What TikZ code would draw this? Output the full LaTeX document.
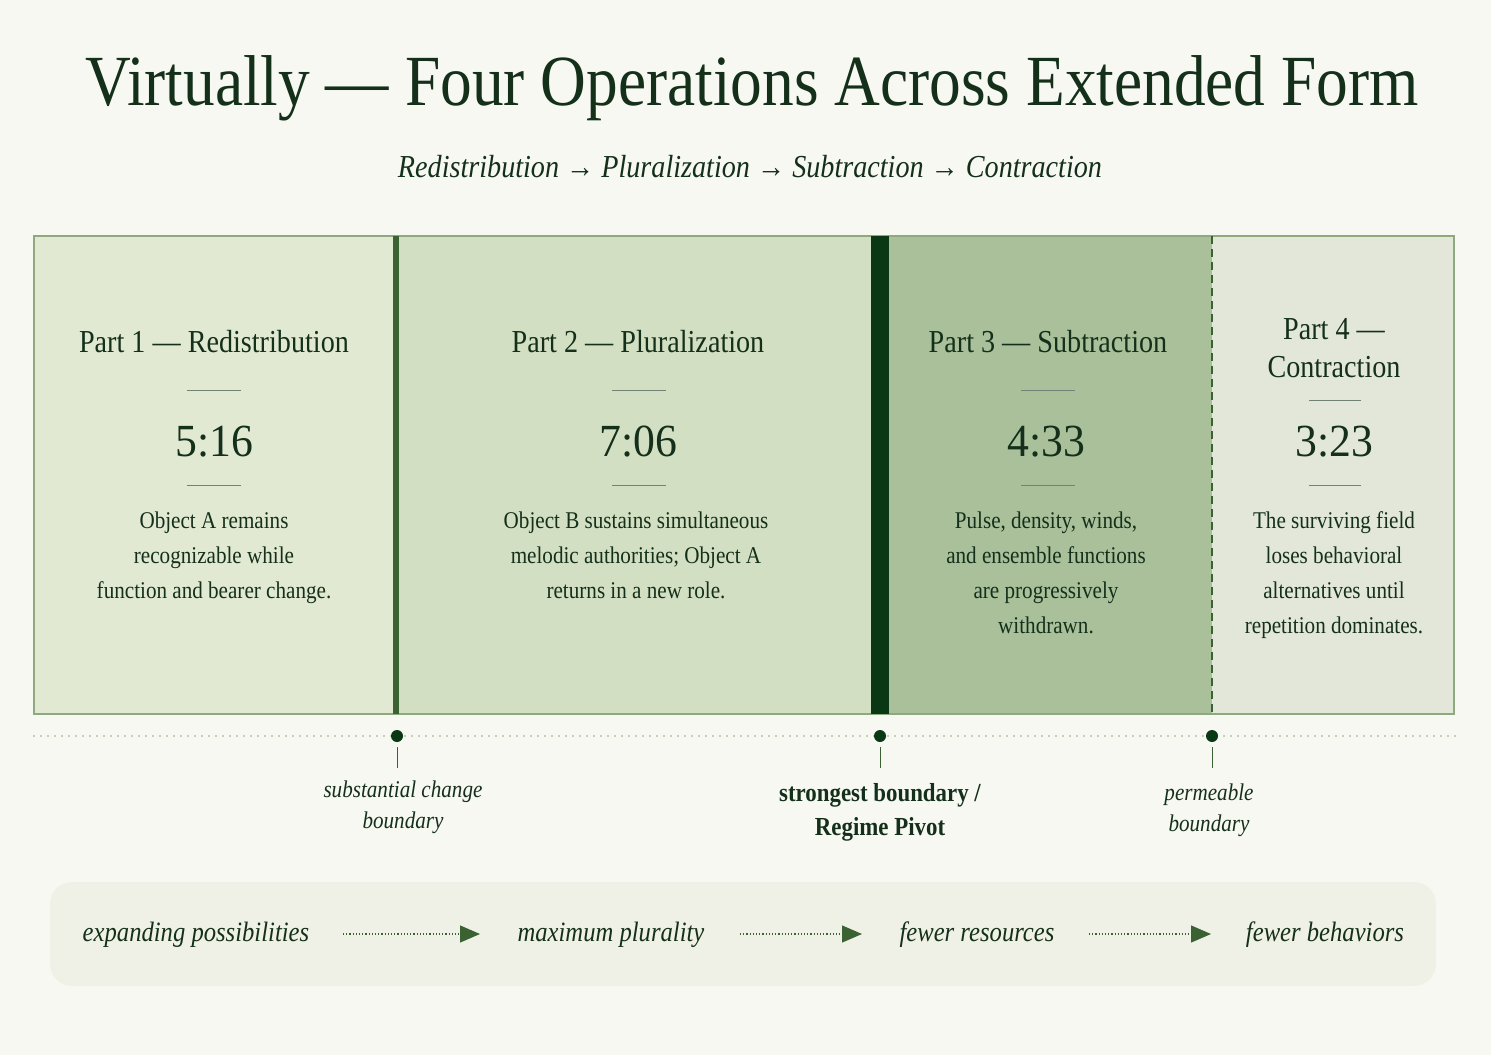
\documentclass[tikz,border=0pt]{standalone}
\usepackage{fontspec}
\setmainfont{Liberation Serif}[FakeStretch=0.88]
\newfontfamily\numf{Liberation Serif}[FakeStretch=0.95]
\usetikzlibrary{arrows.meta}
\definecolor{bg}{HTML}{F8F8F2}
\definecolor{ink}{HTML}{14301A}
\definecolor{pa}{HTML}{E2E9D3}
\definecolor{pb}{HTML}{D3DFC2}
\definecolor{pc}{HTML}{A9C09B}
\definecolor{pd}{HTML}{E2E7DA}
\definecolor{bord}{HTML}{8FA97F}
\definecolor{mid}{HTML}{3A6232}
\definecolor{dark}{HTML}{0B3814}
\definecolor{band}{HTML}{F0F1E6}
\tikzset{
 head/.style={text=ink,font=\fontsize{32}{36}\selectfont,align=center},
 num/.style={text=ink,font=\numf\fontsize{46}{50}\selectfont},
 body/.style={text=ink,font=\fontsize{24}{35}\selectfont,align=center},
 rule/.style={draw=ink!60,line width=0.8pt},
 lab/.style={text=ink,font=\itshape\fontsize{24}{31}\selectfont,align=center},
 flow/.style={text=ink,font=\itshape\fontsize{28}{30}\selectfont},
 farrow/.style={draw=mid,line width=1.2pt,dotted,-{Triangle[length=20pt,width=17pt,fill=mid]}},
 dot/.style={circle,fill=dark,inner sep=0pt,minimum size=12pt},
}
\begin{document}
\begin{tikzpicture}[x=1pt,y=-1pt]
\fill[bg] (0,0) rectangle (1491,1055);
\useasboundingbox (0,0) rectangle (1491,1055);
\node[text=ink,font=\fontsize{72}{76}\selectfont] (title) at (752,88) {Virtually — Four Operations Across Extended Form};
\node[text=ink,font=\itshape\fontsize{32}{36}\selectfont] (sub) at (750,167) {Redistribution → Pluralization → Subtraction → Contraction};
% panels
\fill[pa] (34,236) rectangle (396,714);
\fill[pb] (396,236) rectangle (880,714);
\fill[pc] (880,236) rectangle (1212,714);
\fill[pd] (1212,236) rectangle (1454,714);
\draw[bord,line width=1.2pt] (34,236) rectangle (1454,714);
\draw[mid,line width=6pt] (396,236) -- (396,714);
\draw[dark,line width=18pt] (880,236) -- (880,714);
\draw[mid,line width=1.5pt,dash pattern=on 8pt off 5pt] (1212,236) -- (1212,714);
% part 1
\node[head] (h1) at (214,342) {Part 1 — Redistribution};
\draw[rule] (187,390) -- (241,390);
\node[num] (n1) at (214,442) {5:16};
\draw[rule] (187,485) -- (241,485);
\node[body,anchor=north] (b1) at (214,508) {Object A remains\\recognizable while\\function and bearer change.};
% part 2
\node[head] (h2) at (638,342) {Part 2 — Pluralization};
\draw[rule] (612,390) -- (666,390);
\node[num] (n2) at (638,442) {7:06};
\draw[rule] (612,485) -- (666,485);
\node[body,anchor=north] (b2) at (636,508) {Object B sustains simultaneous\\melodic authorities; Object A\\returns in a new role.};
% part 3
\node[head] (h3) at (1048,342) {Part 3 — Subtraction};
\draw[rule] (1021,390) -- (1075,390);
\node[num] (n3) at (1046,442) {4:33};
\draw[rule] (1021,485) -- (1075,485);
\node[body,anchor=north] (b3) at (1046,508) {Pulse, density, winds,\\and ensemble functions\\are progressively\\withdrawn.};
% part 4
\node[head,font=\fontsize{32}{38}\selectfont] (h4) at (1334,348) {Part 4 —\\Contraction};
\draw[rule] (1309,400) -- (1361,400);
\node[num] (n4) at (1334,442) {3:23};
\draw[rule] (1309,485) -- (1361,485);
\node[body,anchor=north] (b4) at (1334,508) {The surviving field\\loses behavioral\\alternatives until\\repetition dominates.};
% timeline
\draw[bord,line width=1.8pt,line cap=round,dash pattern=on 0pt off 7pt] (34,736) -- (1456,736);
\node[dot] (d1) at (397,736) {};
\node[dot] (d2) at (880,736) {};
\node[dot] (d3) at (1212,736) {};
\coordinate (t1) at (397,768);
\coordinate (t2) at (880,768);
\coordinate (t3) at (1212,768);
\draw[mid,line width=1pt] ([yshift=-5pt]d1.south) -- (t1);
\draw[mid,line width=1pt] ([yshift=-5pt]d2.south) -- (t2);
\draw[mid,line width=1pt] ([yshift=-5pt]d3.south) -- (t3);
\node[lab] (l1) at (403,807) {substantial change\\boundary};
\node[text=ink,font=\bfseries\fontsize{26}{34}\selectfont,align=center] (l2) at (880,812) {strongest boundary /\\Regime Pivot};
\node[lab] (l3) at (1209,810) {permeable\\boundary};
% bottom band
\fill[band,rounded corners=22pt] (50,882) rectangle (1436,986);
\node[flow] (f1) at (196,935) {expanding possibilities};
\node[flow] (f2) at (611,935) {maximum plurality};
\node[flow] (f3) at (977,935) {fewer resources};
\node[flow] (f4) at (1325,935) {fewer behaviors};
\draw[farrow] (343,934) -- (480,934);
\draw[farrow] (740,934) -- (862,934);
\draw[farrow] (1089,934) -- (1211,934);
\end{tikzpicture}
\end{document}
